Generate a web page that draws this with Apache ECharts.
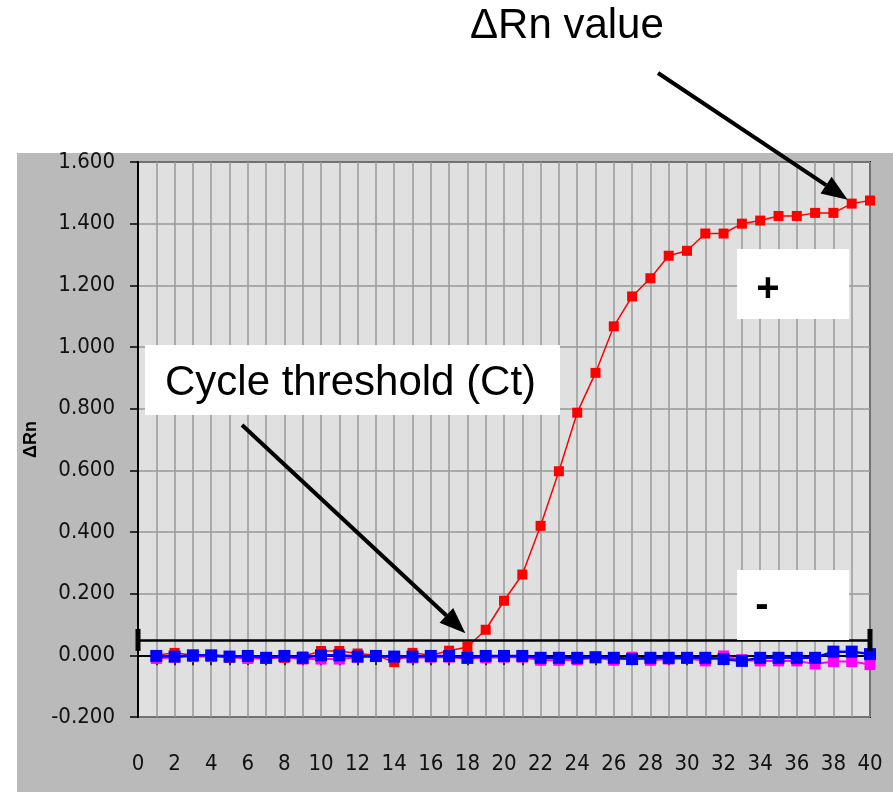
<!DOCTYPE html>
<html>
<head>
<meta charset="utf-8">
<script src="https://cdn.jsdelivr.net/npm/echarts@6/dist/echarts.min.js"></script>
<style>
  html, body { margin: 0; padding: 0; background: #fff; }
  #panel { position: absolute; left: 17px; top: 153px; width: 876px; height: 639px; background: #bababa; }
  #chart { position: absolute; left: 0; top: 0; width: 893px; height: 792px; }
</style>
</head>
<body>
<div id="panel"></div>
<div id="chart"></div>
<script>
// amplification plot data
const cycles = [1, 2, 3, 4, 5, 6, 7, 8, 9, 10, 11, 12, 13, 14, 15, 16, 17, 18, 19, 20,
  21, 22, 23, 24, 25, 26, 27, 28, 29, 30, 31, 32, 33, 34, 35, 36, 37, 38, 39, 40];

const positive = [0.000, 0.008, 0.000, 0.000, -0.008, -0.002, -0.006, -0.008, -0.004, 0.014,
  0.014, 0.006, 0.000, -0.022, 0.008, 0.000, 0.015, 0.027, 0.083, 0.177,
  0.262, 0.420, 0.597, 0.787, 0.916, 1.067, 1.164, 1.223, 1.296, 1.312,
  1.368, 1.368, 1.400, 1.410, 1.425, 1.425, 1.435, 1.435, 1.465, 1.475];

const negativeA = [-0.002, -0.004, 0.000, 0.000, -0.004, -0.002, -0.008, -0.002, -0.008, 0.000,
  0.000, -0.004, -0.002, -0.004, -0.004, -0.002, -0.002, -0.008, -0.002, -0.002,
  -0.002, -0.008, -0.008, -0.008, -0.006, -0.008, -0.012, -0.008, -0.008, -0.008,
  -0.008, -0.012, -0.018, -0.008, -0.008, -0.008, -0.008, 0.012, 0.012, 0.004];

const negativeB = [-0.010, -0.006, -0.004, -0.004, -0.006, -0.010, -0.010, -0.006, -0.012, -0.012,
  -0.012, -0.006, -0.004, -0.008, -0.008, -0.006, -0.006, -0.010, -0.008, -0.006,
  -0.006, -0.016, -0.016, -0.014, -0.008, -0.016, -0.006, -0.016, -0.012, -0.010,
  -0.018, -0.002, -0.014, -0.018, -0.018, -0.018, -0.028, -0.020, -0.020, -0.030];

const threshold = 0.046;

const pairs = vals => cycles.map((c, i) => [c, vals[i]]);

const tickFont = { fontFamily: "'Liberation Sans Narrow', 'DejaVu Sans Condensed', sans-serif", fontSize: 22, color: '#111' };

let chart = echarts.init(document.getElementById('chart'));
chart.setOption({
  animation: false,
  backgroundColor: 'transparent',
  grid: {
    left: 138, right: 23, top: 162, bottom: 75,
    show: true, backgroundColor: '#e0e0e0', borderColor: '#000', borderWidth: 2
  },
  xAxis: {
    type: 'value', min: 0, max: 40, interval: 1,
    axisLine: { lineStyle: { color: '#000', width: 2 } },
    axisTick: { length: 10, lineStyle: { color: '#000', width: 1.5 } },
    axisLabel: Object.assign({ margin: 36, formatter: v => (v % 2 === 0 ? String(v) : '') }, tickFont),
    splitLine: { show: true, lineStyle: { color: '#999', width: 1.5 } }
  },
  yAxis: {
    type: 'value', min: -0.2, max: 1.6, interval: 0.2,
    name: '\u0394Rn', nameLocation: 'middle', nameRotate: 90, nameGap: 96,
    nameTextStyle: { fontFamily: 'Liberation Sans', fontWeight: 'bold', fontSize: 18, color: '#000' },
    axisLine: { show: true, lineStyle: { color: '#000', width: 2 } },
    axisTick: { show: true, length: 8, lineStyle: { color: '#000', width: 1.5 } },
    axisLabel: Object.assign({ margin: 23, formatter: v => (Math.abs(v) < 1e-9 ? 0 : v).toFixed(3) }, tickFont),
    splitLine: { show: true, lineStyle: { color: '#999', width: 1.5 } }
  },
  series: [
    {
      name: 'neg B', type: 'line', data: pairs(negativeB), z: 2,
      symbol: 'rect', symbolSize: 11,
      itemStyle: { color: '#ff00ff' }, lineStyle: { color: '#ff00ff', width: 2 }
    },
    {
      name: 'positive', type: 'line', data: pairs(positive), z: 3,
      symbol: 'rect', symbolSize: 10,
      itemStyle: { color: '#ff0000' }, lineStyle: { color: '#ff0000', width: 1.5 },
      markLine: {
        silent: true, symbol: ['rect', 'rect'], symbolSize: [22, 5],
        label: { show: false },
        lineStyle: { color: '#000', width: 2.5, type: 'solid' },
        data: [{ yAxis: threshold }]
      }
    },
    {
      name: 'neg A', type: 'line', data: pairs(negativeA), z: 4,
      symbol: 'rect', symbolSize: 12,
      itemStyle: { color: '#0000ff' }, lineStyle: { color: '#0000ff', width: 2.5 }
    }
  ]
});

// annotations: text boxes and arrows pointing at data positions
function arrow(x1, y1, x2, y2) {
  const ang = Math.atan2(y2 - y1, x2 - x1), len = 26, half = 10;
  const bx = x2 - len * Math.cos(ang), by = y2 - len * Math.sin(ang);
  const px = -Math.sin(ang) * half, py = Math.cos(ang) * half;
  return [
    { type: 'line', shape: { x1: x1, y1: y1, x2: bx, y2: by }, style: { stroke: '#000', lineWidth: 4 }, z: 20 },
    { type: 'polygon', shape: { points: [[x2, y2], [bx + px, by + py], [bx - px, by - py]] }, style: { fill: '#000' }, z: 20 }
  ];
}

const tipTop = chart.convertToPixel({ gridIndex: 0 }, [39, positive[38]]);
const tipCt = chart.convertToPixel({ gridIndex: 0 }, [18, threshold]);
const bigFont = "'Liberation Sans', Arial, sans-serif";
const label = (txt, x, y, extra) => ({
  type: 'text', z: 20,
  style: Object.assign({ text: txt, x: x, y: y, verticalAlign: 'middle', font: '42px ' + bigFont, fill: '#000' }, extra || {})
});

chart.setOption({
  graphic: [
    label('\u0394Rn value', 470, 26),
    { type: 'rect', shape: { x: 145, y: 345, width: 415, height: 70 }, style: { fill: '#fff' }, z: 15 },
    label('Cycle threshold (Ct)', 165, 383),
    { type: 'rect', shape: { x: 737, y: 249, width: 112, height: 70 }, style: { fill: '#fff' }, z: 15 },
    label('+', 768, 290, { align: 'center', font: 'bold 40px ' + bigFont }),
    { type: 'rect', shape: { x: 737, y: 570, width: 112, height: 70 }, style: { fill: '#fff' }, z: 15 },
    label('-', 762, 606, { align: 'center', font: 'bold 40px ' + bigFont })
  ].concat(
    arrow(658, 73, tipTop[0] - 4, tipTop[1] - 4),
    arrow(242, 425, tipCt[0] - 2, tipCt[1] - 8)
  )
});
</script>
</body>
</html>
